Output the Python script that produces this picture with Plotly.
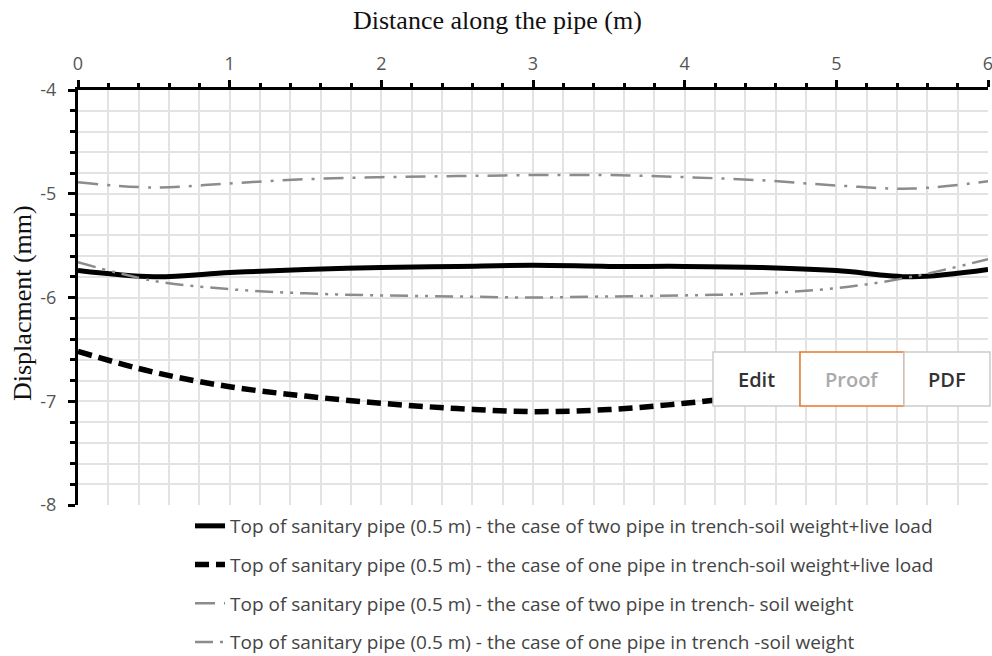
import plotly.graph_objects as go

x_vals = [0, 0.5, 1, 1.5, 2, 2.5, 3, 3.5, 4, 4.5, 5, 5.5, 6]
two_pipe_live = [-5.74, -5.80, -5.76, -5.73, -5.71, -5.70, -5.69, -5.70, -5.70, -5.71, -5.74, -5.80, -5.73]
one_pipe_live = [-6.52, -6.72, -6.86, -6.95, -7.02, -7.07, -7.10, -7.08, -7.02, -6.94, -6.85, -6.72, -6.54]
two_pipe_soil = [-4.89, -4.94, -4.90, -4.86, -4.84, -4.83, -4.82, -4.82, -4.84, -4.87, -4.92, -4.95, -4.88]
one_pipe_soil = [-5.66, -5.84, -5.92, -5.96, -5.98, -5.99, -6.00, -5.99, -5.98, -5.96, -5.91, -5.80, -5.63]

x_ticks = [0, 1, 2, 3, 4, 5, 6]
y_ticks = [-8, -7, -6, -5, -4]
y_tick_text = ["-8", "-7", "-6", "-5", "-4"]

names = [
    "Top of sanitary pipe (0.5 m) - the case of two pipe in trench-soil weight+live load",
    "Top of sanitary pipe (0.5 m) - the case of one pipe in trench-soil weight+live load",
    "Top of sanitary pipe (0.5 m) - the case of two pipe in trench- soil weight",
    "Top of sanitary pipe (0.5 m) - the case of one pipe in trench -soil weight",
]
series = [two_pipe_live, one_pipe_live, two_pipe_soil, one_pipe_soil]
styles = [
    dict(color="black", width=5, dash="solid"),
    dict(color="black", width=5.5, dash="14px,7px"),
    dict(color="#8c8c8c", width=2.5, dash="20px,9px,3px,9px"),
    dict(color="#8c8c8c", width=2.5, dash="18px,7px,3px,7px,3px,7px"),
]

fig = go.Figure()
for i, (nm, ys, st) in enumerate(zip(names, series, styles)):
    fig.add_trace(go.Scatter(
        x=x_vals, y=ys, mode="lines", name=nm, legendgroup=f"g{i}",
        line=dict(color=st["color"], width=st["width"], dash=st["dash"], shape="spline", smoothing=1.0),
    ))

W, H = 992, 656
ml, mr, mt, mb = 78, 4, 90, 151
pw, ph = W - ml - mr, H - mt - mb

def px2paper(px, py):
    return (px - ml) / pw, (H - mb - py) / ph

fig.update_layout(
    width=W, height=H,
    margin=dict(l=ml, r=mr, t=mt, b=mb, autoexpand=False),
    paper_bgcolor="white", plot_bgcolor="white",
    font=dict(family="Open Sans", color="#555555"),
    showlegend=True,
    legend=dict(
        x=px2paper(190, 0)[0], xanchor="left",
        y=px2paper(0, 507)[1], yanchor="top",
        font=dict(size=19, color="#444444", family="Open Sans"),
        tracegroupgap=11, bgcolor="rgba(0,0,0,0)",
    ),
    xaxis=dict(
        range=[0, 6], side="top", tickmode="array", tickvals=x_ticks,
        ticktext=[str(v) for v in x_ticks], ticklabeloverflow="allow", automargin=False,
        showline=True, linecolor="black", linewidth=3, mirror=False,
        ticks="outside", ticklen=7, tickwidth=3, tickcolor="black",
        tickfont=dict(size=18, color="#555555"), ticklabelstandoff=3,
        showgrid=True, gridcolor="#e3e3e3", gridwidth=1.5, zeroline=False,
        minor=dict(dtick=0.2, ticks="outside", ticklen=4, tickwidth=3, tickcolor="black",
                   showgrid=True, gridcolor="#e3e3e3", gridwidth=1.5),
    ),
    yaxis=dict(
        range=[-8, -4], tickmode="array", tickvals=y_ticks, ticktext=y_tick_text, automargin=False,
        showline=True, linecolor="black", linewidth=3, mirror=False,
        ticks="outside", ticklen=7, tickwidth=3, tickcolor="black",
        tickfont=dict(size=18, color="#555555"), ticklabelstandoff=8,
        showgrid=True, gridcolor="#e3e3e3", gridwidth=1.5, zeroline=False,
        minor=dict(dtick=0.2, tick0=-8, ticks="outside", ticklen=5, tickwidth=3, tickcolor="black",
                   showgrid=True, gridcolor="#e3e3e3", gridwidth=1.5),
    ),
)

# axis titles
fig.add_annotation(text="Distance along the pipe (m)", xref="paper", yref="paper",
                   x=px2paper(497, 0)[0], y=px2paper(0, 21)[1], xanchor="center", yanchor="middle",
                   showarrow=False, font=dict(family="Liberation Serif", size=26, color="#111111"))
fig.add_annotation(text="Displacment (mm)", xref="paper", yref="paper", textangle=-90,
                   x=px2paper(22, 0)[0], y=px2paper(0, 303)[1], xanchor="center", yanchor="middle",
                   showarrow=False, font=dict(family="Liberation Serif", size=26, color="#111111"))

# overlay buttons
buttons = [("Edit", 713, 800, "#cccccc", "#333333"),
           ("Proof", 800, 904, "#e8782a", "#aaaaaa"),
           ("PDF", 904, 990, "#cccccc", "#333333")]
for label, x0, x1, border, tc in buttons:
    a0, b0 = px2paper(x0, 406)
    a1, b1 = px2paper(x1, 352)
    fig.add_shape(type="rect", xref="paper", yref="paper", x0=a0, x1=a1, y0=b0, y1=b1,
                  fillcolor="white", line=dict(color=border, width=1.5), layer="above")
    fig.add_annotation(text=label, xref="paper", yref="paper", x=(a0 + a1) / 2, y=(b0 + b1) / 2,
                       xanchor="center", yanchor="middle", showarrow=False,
                       font=dict(family="Open Sans", size=20, color=tc, weight=600))

fig.write_html("out.html")
